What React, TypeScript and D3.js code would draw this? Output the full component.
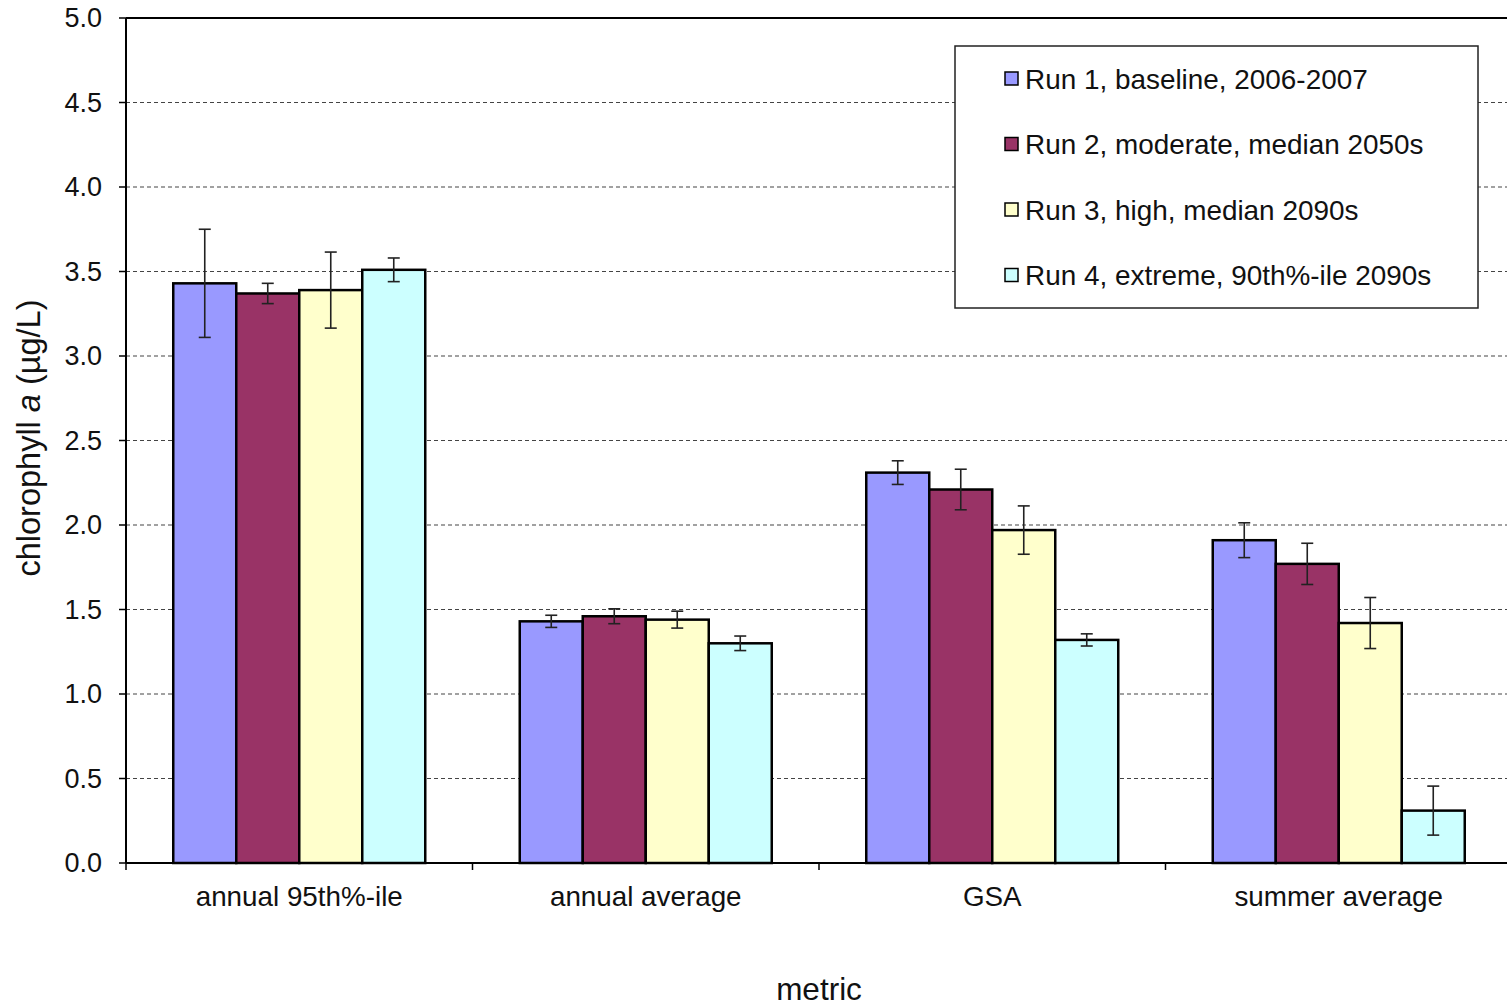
import React, { useEffect } from "react";
import * as d3 from "d3";

const categories = ["annual 95th%-ile", "annual average", "GSA", "summer average"];
const seriesNames = [
  "Run 1, baseline, 2006-2007",
  "Run 2, moderate, median 2050s",
  "Run 3, high, median 2090s",
  "Run 4, extreme, 90th%-ile 2090s",
];
const seriesColors = ["#9999FF", "#993366", "#FFFFCC", "#CCFFFF"];

const run1 = [3.43, 1.43, 2.31, 1.91];
const run2 = [3.37, 1.46, 2.21, 1.77];
const run3 = [3.39, 1.44, 1.97, 1.42];
const run4 = [3.51, 1.3, 1.32, 0.31];

const run1Err = [0.32, 0.036, 0.07, 0.103];
const run2Err = [0.06, 0.044, 0.12, 0.122];
const run3Err = [0.225, 0.05, 0.143, 0.151];
const run4Err = [0.07, 0.043, 0.036, 0.145];

const yTicks = [0, 0.5, 1, 1.5, 2, 2.5, 3, 3.5, 4, 4.5, 5];

const W = 1507;
const H = 1006;
const FONT = "'Liberation Sans', Arial, Helvetica, sans-serif";

export default function App() {
  useEffect(() => {
    document.body.style.margin = "0";
  }, []);

  const plot = { left: 126, right: 1512, top: 18, bottom: 863 };
  const values = [run1, run2, run3, run4];
  const errs = [run1Err, run2Err, run3Err, run4Err];

  const x0 = d3.scaleBand<string>().domain(categories).range([plot.left, plot.right]).padding(0);
  const x1 = d3
    .scaleBand<number>()
    .domain([0, 1, 2, 3])
    .range([0, x0.bandwidth()])
    .paddingInner(0)
    .paddingOuter(0.75);
  const y = d3.scaleLinear().domain([0, 5]).range([plot.bottom, plot.top]);

  const legend = { x: 955, y: 46, w: 523, h: 262 };
  const legendRowY = (i: number) => 79 + i * 65.5;

  const xTickPos = categories.map((c) => x0(c) as number).concat([plot.right]);

  return (
    <svg width={W} height={H} style={{ display: "block" }} fontFamily={FONT}>
      <rect x={0} y={0} width={W} height={H} fill="#fff" />

      {/* horizontal dashed gridlines */}
      {yTicks
        .filter((t) => t > 0 && t < 5)
        .map((t) => (
          <line
            key={"g" + t}
            x1={plot.left}
            x2={plot.right}
            y1={y(t)}
            y2={y(t)}
            stroke="#444"
            strokeWidth={1.2}
            strokeDasharray="4,3"
          />
        ))}

      {/* top border of plot area */}
      <line x1={plot.left} x2={plot.right} y1={plot.top} y2={plot.top} stroke="#000" strokeWidth={2} />

      {/* bars */}
      {categories.map((c, ci) =>
        values.map((vals, si) => {
          const bx = (x0(c) as number) + (x1(si) as number);
          const by = y(vals[ci]);
          return (
            <rect
              key={`b${ci}-${si}`}
              x={bx}
              y={by}
              width={x1.bandwidth()}
              height={plot.bottom - by}
              fill={seriesColors[si]}
              stroke="#000"
              strokeWidth={2.5}
            />
          );
        })
      )}

      {/* error bars */}
      {categories.map((c, ci) =>
        values.map((vals, si) => {
          const cx = (x0(c) as number) + (x1(si) as number) + x1.bandwidth() / 2;
          const hi = y(vals[ci] + errs[si][ci]);
          const lo = y(vals[ci] - errs[si][ci]);
          return (
            <g key={`e${ci}-${si}`} stroke="#222" strokeWidth={1.6}>
              <line x1={cx} x2={cx} y1={hi} y2={lo} />
              <line x1={cx - 6} x2={cx + 6} y1={hi} y2={hi} />
              <line x1={cx - 6} x2={cx + 6} y1={lo} y2={lo} />
            </g>
          );
        })
      )}

      {/* axes */}
      <line x1={plot.left} x2={plot.left} y1={plot.top} y2={plot.bottom} stroke="#000" strokeWidth={2} />
      <line x1={plot.left} x2={plot.right} y1={plot.bottom} y2={plot.bottom} stroke="#000" strokeWidth={2} />

      {yTicks.map((t) => (
        <g key={"yt" + t}>
          <line x1={plot.left - 7} x2={plot.left} y1={y(t)} y2={y(t)} stroke="#000" strokeWidth={1.5} />
          <text x={102} y={y(t) + 9} textAnchor="end" fontSize={27} fill="#111">
            {d3.format(".1f")(t)}
          </text>
        </g>
      ))}

      {xTickPos.map((px, i) => (
        <line key={"xt" + i} x1={px} x2={px} y1={plot.bottom} y2={plot.bottom + 7} stroke="#000" strokeWidth={1.5} />
      ))}

      {categories.map((c) => (
        <text
          key={"xl" + c}
          x={(x0(c) as number) + x0.bandwidth() / 2}
          y={906}
          textAnchor="middle"
          fontSize={27.8}
          fill="#111"
        >
          {c}
        </text>
      ))}

      {/* axis titles */}
      <text x={819} y={1000} textAnchor="middle" fontSize={31.5} fill="#111">
        metric
      </text>
      <text
        transform={`translate(40, 438) rotate(-90)`}
        textAnchor="middle"
        fontSize={32.5}
        fill="#111"
      >
        chlorophyll <tspan fontStyle="italic">a</tspan> (µg/L)
      </text>

      {/* legend */}
      <rect x={legend.x} y={legend.y} width={legend.w} height={legend.h} fill="#fff" stroke="#222" strokeWidth={1.5} />
      {seriesNames.map((n, i) => (
        <g key={"lg" + i}>
          <rect
            x={1005}
            y={legendRowY(i) - 7}
            width={13}
            height={13}
            fill={seriesColors[i]}
            stroke="#000"
            strokeWidth={1.5}
          />
          <text x={1025} y={legendRowY(i) + 9.5} fontSize={27.9} fill="#111">
            {n}
          </text>
        </g>
      ))}
    </svg>
  );
}
